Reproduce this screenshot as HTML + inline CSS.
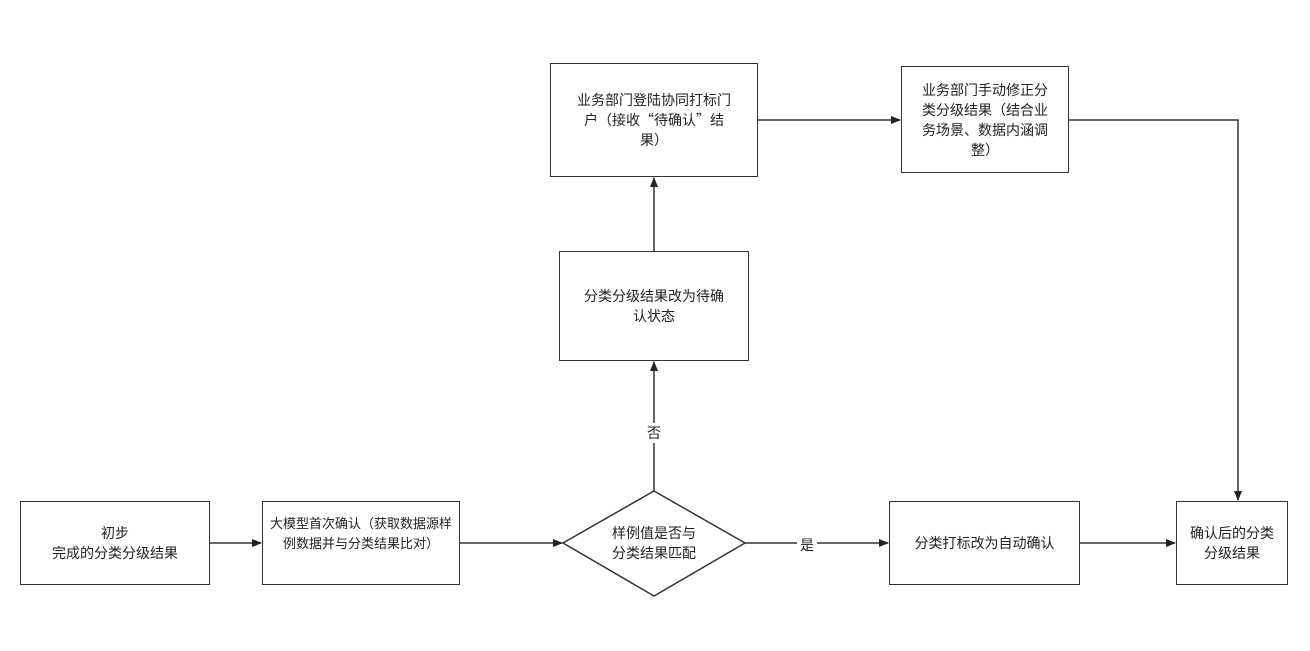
<!DOCTYPE html>
<html><head><meta charset="utf-8"><style>
body{margin:0;width:1310px;height:651px;background:#fff;overflow:hidden;font-family:"Liberation Sans","Noto Sans CJK SC",sans-serif;}
.b{position:absolute;border:1.5px solid #333;box-sizing:border-box;display:flex;align-items:center;justify-content:center;text-align:center;font-size:14px;color:#222;line-height:20px;background:#fff;white-space:nowrap;}
.t{position:absolute;font-size:14px;color:#222;background:#fff;padding:0 3px;}
.q{font-family:"Noto Sans CJK SC",sans-serif;}
svg{position:absolute;left:0;top:0}
</style></head><body>
<svg width="1310" height="651">
<defs><marker id="a" markerWidth="10" markerHeight="10" refX="9" refY="5" orient="auto" markerUnits="userSpaceOnUse"><path d="M0,1 L10,5 L0,9 Z" fill="#222"/></marker></defs>
<g stroke="#333" stroke-width="1.5" fill="none">
<line x1="210" y1="543" x2="261" y2="543" marker-end="url(#a)"/>
<line x1="460" y1="543" x2="562" y2="543" marker-end="url(#a)"/>
<line x1="745" y1="543" x2="888" y2="543" marker-end="url(#a)"/>
<line x1="1080" y1="543" x2="1175" y2="543" marker-end="url(#a)"/>
<line x1="654" y1="491" x2="654" y2="362" marker-end="url(#a)"/>
<line x1="654" y1="251" x2="654" y2="178" marker-end="url(#a)"/>
<line x1="758" y1="120" x2="900" y2="120" marker-end="url(#a)"/>
<polyline points="1069,120 1238,120 1238,500" marker-end="url(#a)"/>
<polygon points="654,491 745,543 654,596 563,543" fill="#fff"/>
</g>
<text x="654" y="538" font-size="14" text-anchor="middle" fill="#222" font-family="Liberation Sans,Noto Sans CJK SC,sans-serif">样例值是否与</text>
<text x="654" y="558" font-size="14" text-anchor="middle" fill="#222" font-family="Liberation Sans,Noto Sans CJK SC,sans-serif">分类结果匹配</text>
</svg>
<div class="b" style="left:20px;top:501px;width:190px;height:84px">初步<br>完成的分类分级结果</div>
<div class="b" style="left:262px;top:501px;width:198px;height:84px;align-items:flex-start;padding-top:12px;font-size:13px">大模型首次确认（获取数据源样<br>例数据并与分类结果比对）</div>
<div class="b" style="left:889px;top:501px;width:191px;height:84px">分类打标改为自动确认</div>
<div class="b" style="left:1176px;top:501px;width:112px;height:84px">确认后的分类<br>分级结果</div>
<div class="b" style="left:559px;top:251px;width:190px;height:110px">分类分级结果改为待确<br>认状态</div>
<div class="b" style="left:550px;top:63px;width:208px;height:114px"><div>业务部门登陆协同打标门<br>户（接收<span class="q">“</span>待确认<span class="q">”</span>结<br>果）</div></div>
<div class="b" style="left:901px;top:66px;width:168px;height:107px">业务部门手动修正分<br>类分级结果（结合业<br>务场景、数据内涵调<br>整）</div>
<div class="t" style="left:644px;top:423px">否</div>
<div class="t" style="left:797px;top:535px">是</div>
</body></html>
